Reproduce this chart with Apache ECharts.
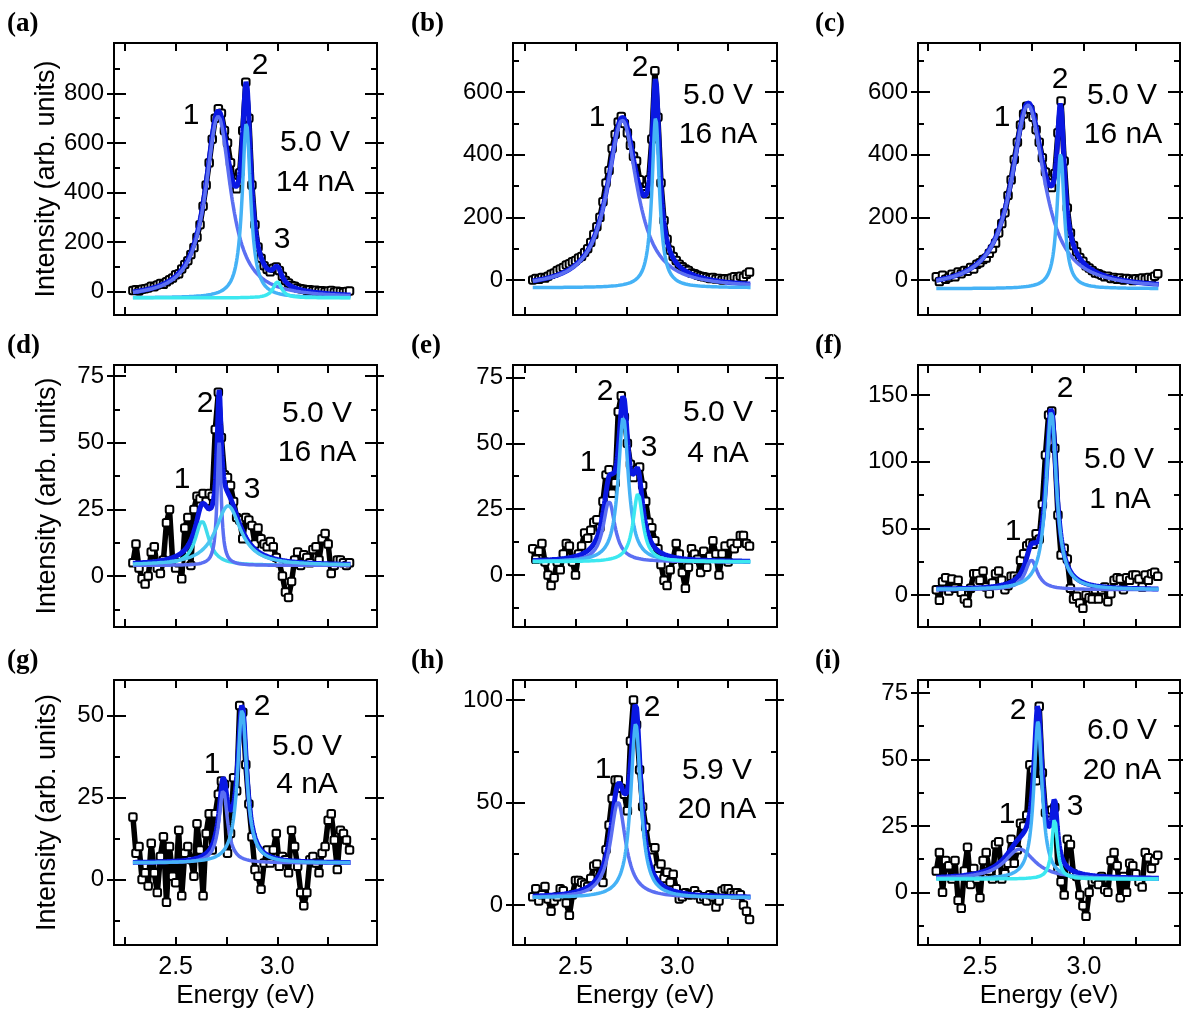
<!DOCTYPE html>
<html>
<head>
<meta charset="utf-8">
<script src="https://cdn.jsdelivr.net/npm/echarts@6.0.0/dist/echarts.min.js"></script>
<style>
html,body{margin:0;padding:0;background:#ffffff;}
#chart{width:1183px;height:1010px;}
</style>
</head>
<body>
<div id="chart"></div>
<script>
// ---------- DATA ----------
const energy = [2.29,2.305,2.32,2.335,2.35,2.365,2.38,2.395,2.41,2.425,2.44,2.455,2.47,2.485,2.5,2.515,2.53,2.545,2.56,2.575,2.59,2.605,2.62,2.635,2.65,2.665,2.68,2.695,2.71,2.725,2.74,2.755,2.77,2.785,2.8,2.815,2.83,2.845,2.86,2.875,2.89,2.905,2.92,2.935,2.95,2.965,2.98,2.995,3.01,3.025,3.04,3.055,3.07,3.085,3.1,3.115,3.13,3.145,3.16,3.175,3.19,3.205,3.22,3.235,3.25,3.265,3.28,3.295,3.31,3.325,3.34,3.355];

const dataA = [5,8,3,10,12,15,22,20,27,33,30,40,48,55,68,72,92,110,125,150,178,220,270,345,430,520,615,700,738,720,650,600,520,440,415,480,650,845,700,430,270,180,135,105,90,80,95,100,85,62,45,35,25,22,15,12,10,5,8,3,6,2,4,0,3,5,-2,2,0,-3,1,3];
const dataB = [0,5,2,8,6,12,18,22,30,35,40,48,52,58,62,70,75,88,100,120,145,170,200,250,310,350,420,465,505,522,500,470,430,395,380,320,285,275,320,450,668,520,310,190,130,95,75,62,50,42,35,30,22,20,15,12,10,8,5,8,3,5,0,4,2,6,10,4,12,8,18,25];
const dataC = [10,-5,15,2,8,18,10,25,20,30,28,40,35,50,55,65,70,85,100,118,150,180,215,270,320,385,440,495,530,555,545,520,480,440,390,345,310,295,340,470,572,380,230,150,110,90,72,60,45,38,30,22,20,15,10,12,5,8,2,6,0,5,3,-2,4,0,6,2,8,5,12,20];
const dataD = [5,12,3,-1,-3,0,9,11,3,1,6,20,25,6,3,5,-1,18,22,4,25,30,29,31,28,31,30,55,69,52,38,37,34,28,22,21,14,22,21,19,12,18,14,12,11,13,11,7,5,0,-6,-8,-2,6,9,4,8,7,5,10,11,6,14,16,12,1,4,6,6,5,4,5];
const dataE = [10,6,9,12,5,0,-4,-1,5,2,8,12,11,5,0,8,11,16,14,17,20,21,18,28,38,40,31,35,62,68,60,50,42,37,40,41,34,28,20,18,13,10,4,-2,-4,2,6,12,8,1,-5,3,10,8,6,1,9,3,7,13,8,0,8,11,5,12,10,12,15,15,12,11];
const dataF = [4,-4,10,13,3,12,5,11,2,-3,-6,5,16,16,11,18,6,1,9,16,18,11,4,7,14,14,12,26,31,37,39,38,46,42,68,105,135,138,110,60,30,35,27,5,-3,-1,-6,-10,0,-2,-3,4,-3,4,6,-5,1,11,13,12,4,13,11,15,15,12,6,15,11,16,17,14];
const dataG = [19,8,10,0,2,-2,11,2,-4,7,13,-7,10,1,-1,15,-5,8,10,6,1,17,9,-5,14,20,9,20,26,30,29,8,14,31,27,53,51,35,23,13,3,1,-3,5,9,5,9,14,4,7,6,2,15,10,4,-4,-8,-4,6,7,5,2,8,10,18,20,12,3,15,14,12,9];
const dataH = [4,8,2,5,9,3,-3,2,4,8,7,1,-5,5,12,12,11,10,9,13,19,20,14,11,27,39,52,61,61,57,54,46,80,100,88,66,48,38,28,27,28,18,20,13,16,11,15,8,3,4,6,5,5,7,5,3,4,2,5,4,-1,2,7,8,8,6,5,6,5,0,-3,-7];
const dataI = [8,15,0,12,10,5,12,-3,-6,8,17,3,9,5,-2,12,15,8,5,18,19,5,7,11,20,11,16,26,25,29,48,46,42,70,45,30,30,31,32,9,4,-1,20,18,7,6,-1,-5,-9,0,4,5,3,6,1,0,12,15,10,-2,6,0,11,10,7,4,2,15,13,9,12,14];

// Lorentzian fit parameters: [centre (eV), half width (eV), amplitude, component colour]
const baseA = -25; const peaksA = [[2.709,0.075,733,'med'],[2.848,0.025,705,'sky'],[3.0,0.025,65,'cyan']];
const baseB = -25; const peaksB = [[2.73,0.09,536,'med'],[2.894,0.022,545,'sky']];
const baseC = -28; const peaksC = [[2.731,0.096,587,'med'],[2.888,0.021,433,'sky']];
const baseD = 4;   const peaksD = [[2.630,0.041,16.6,'cyanL'],[2.714,0.012,46,'med'],[2.758,0.075,22.4,'skyC']];
const baseE = 5;   const peaksE = [[2.665,0.035,23,'med'],[2.735,0.03,55,'sky'],[2.807,0.029,26,'cyan']];
const baseF = 4;   const peaksF = [[2.747,0.035,22.4,'med'],[2.843,0.03,134,'sky']];
const baseG = 5;   const peaksG = [[2.734,0.025,22.4,'med'],[2.827,0.027,47,'sky']];
const baseH = 3.5; const peaksH = [[2.709,0.045,46.8,'med'],[2.796,0.03,85,'sky']];
const baseI = 5;   const peaksI = [[2.691,0.088,11.3,'med'],[2.779,0.024,59.3,'sky'],[2.859,0.016,22.9,'cyan']];

// tick values / labels
const xTicks = [2.25,2.5,2.75,3.0,3.25];
const xLabels = [2.5,3.0];
const yTicksA = [0,100,200,300,400,500,600,700,800,900];
const yLabelsA = [0,200,400,600,800];
const yTicksBC = [0,100,200,300,400,500,600,700];
const yLabelsBC = [0,200,400,600];
const yTicks75 = [-12.5,0,12.5,25,37.5,50,62.5,75];
const yLabels75 = [0,25,50,75];
const yTicksF = [0,25,50,75,100,125,150];
const yLabelsF = [0,50,100,150];
const yTicksG = [-12.5,0,12.5,25,37.5,50];
const yLabelsG = [0,25,50];
const yTicksH = [0,25,50,75,100];
const yLabelsH = [0,50,100];

// annotation texts
const annA = [['1',191,116],['2',260,66],['3',282,240],['5.0 V',315,143],['14 nA',315,183]];
const annB = [['1',597,118],['2',640,68],['5.0 V',718,96],['16 nA',718,135]];
const annC = [['1',1002,118],['2',1060,80],['5.0 V',1122,96],['16 nA',1123,135]];
const annD = [['2',205,404],['1',182,480],['3',252,490],['5.0 V',317,414],['16 nA',317,453]];
const annE = [['2',605,392],['1',588,463],['3',649,448],['5.0 V',718,413],['4 nA',718,454]];
const annF = [['2',1065,389],['1',1013,532],['5.0 V',1119,460],['1 nA',1120,500]];
const annG = [['2',262,707],['1',212,765],['5.0 V',307,747],['4 nA',307,785]];
const annH = [['2',652,708],['1',603,770],['5.9 V',717,771],['20 nA',717,810]];
const annI = [['2',1018,711],['1',1007,815],['3',1075,807],['6.0 V',1122,731],['20 nA',1122,771]];

// ---------- LAYOUT ----------
const colLeft = [114, 513, 918];
const colWidth = [263, 264, 262];
const rowTop = [43, 365, 680];
const rowHeight = [272, 262, 265];
const xRange = [[2.197, 3.49], [2.193, 3.49], [2.202, 3.462]];
const tagLeft = [7, 411, 815];

const colors = {med:'#5b6ff2', sky:'#45b2f6', cyan:'#3ce8f0', cyanL:'#3fdbec', skyC:'#4cc6f2', total:'#0a18e2'};
const FONT = "'Liberation Sans', Arial, Helvetica, sans-serif";

const panels = [
  {tag:'(a)', data:dataA, base:baseA, peaks:peaksA, yMin:-94,  yMax:1003,  yTicks:yTicksA,  yLabels:yLabelsA,  ann:annA},
  {tag:'(b)', data:dataB, base:baseB, peaks:peaksB, yMin:-112, yMax:757,   yTicks:yTicksBC, yLabels:yLabelsBC, ann:annB},
  {tag:'(c)', data:dataC, base:baseC, peaks:peaksC, yMin:-112, yMax:757,   yTicks:yTicksBC, yLabels:yLabelsBC, ann:annC},
  {tag:'(d)', data:dataD, base:baseD, peaks:peaksD, yMin:-19.1,yMax:79.2,  yTicks:yTicks75,  yLabels:yLabels75,  ann:annD},
  {tag:'(e)', data:dataE, base:baseE, peaks:peaksE, yMin:-19.7,yMax:79.7,  yTicks:yTicks75,  yLabels:yLabels75,  ann:annE},
  {tag:'(f)', data:dataF, base:baseF, peaks:peaksF, yMin:-24,  yMax:172.5, yTicks:yTicksF,  yLabels:yLabelsF,  ann:annF},
  {tag:'(g)', data:dataG, base:baseG, peaks:peaksG, yMin:-20,  yMax:60.8,  yTicks:yTicksG,  yLabels:yLabelsG,  ann:annG},
  {tag:'(h)', data:dataH, base:baseH, peaks:peaksH, yMin:-19.5,yMax:109.8, yTicks:yTicksH,  yLabels:yLabelsH,  ann:annH},
  {tag:'(i)', data:dataI, base:baseI, peaks:peaksI, yMin:-19.8,yMax:79.9,  yTicks:yTicks75,  yLabels:yLabels75,  ann:annI}
];

function lorentz(x, p) { const u = (x - p[0]) / p[1]; return p[2] / (1 + u * u); }
const fitX = [];
for (let i = 0; i <= 535; i++) fitX.push(+(2.29 + i * 0.002).toFixed(4));

const grids = [], xAxes = [], yAxes = [], series = [], graphics = [];
const lineBlack = {color:'#000', width:2};

function xAxisDef(i, xr, pos, opts) {
  return Object.assign({
    type:'value', gridIndex:i, min:xr[0], max:xr[1], position:pos,
    axisLine:{show:true, onZero:false, lineStyle:lineBlack},
    axisLabel:{show:false}, splitLine:{show:false}
  }, opts);
}
function yAxisDef(i, p, pos, opts) {
  return Object.assign({
    type:'value', gridIndex:i, min:p.yMin, max:p.yMax, position:pos,
    axisLine:{show:true, onZero:false, lineStyle:lineBlack},
    axisLabel:{show:false}, splitLine:{show:false}
  }, opts);
}

panels.forEach((p, i) => {
  const row = Math.floor(i / 3), col = i % 3;
  grids.push({left: colLeft[col], top: rowTop[row], width: colWidth[col], height: rowHeight[row], containLabel:false});
  const xr = xRange[col];
  const inRangeY = v => v >= p.yMin && v <= p.yMax;
  const majorY = p.yLabels.filter(inRangeY);
  const minorY = p.yTicks.filter(v => inRangeY(v) && p.yLabels.indexOf(v) < 0);

  const xBase = xAxes.length;
  xAxes.push(xAxisDef(i, xr, 'bottom', {
    axisTick:{show:true, inside:true, length:8, lineStyle:lineBlack, customValues:xTicks},
    axisLabel:{show: row === 2, customValues:xLabels, formatter: v => v.toFixed(1), fontSize:25, color:'#000', fontFamily:FONT, margin:10},
    name: row === 2 ? 'Energy (eV)' : '', nameLocation:'middle', nameGap:38,
    nameTextStyle:{fontSize:26, color:'#000', fontFamily:FONT}
  }));
  xAxes.push(xAxisDef(i, xr, 'top', {
    axisTick:{show:true, inside:true, length:8, lineStyle:lineBlack, customValues:xTicks}
  }));

  const yBase = yAxes.length;
  yAxes.push(yAxisDef(i, p, 'left', {
    axisTick:{show:true, inside:true, length:12, lineStyle:lineBlack, customValues:majorY},
    axisLabel:{show:true, customValues:p.yLabels, fontSize:24, color:'#000', fontFamily:FONT, margin:10},
    name: col === 0 ? 'Intensity (arb. units)' : '', nameLocation:'middle', nameGap:53,
    nameTextStyle:{fontSize:27, color:'#000', fontFamily:FONT}
  }));
  yAxes.push(yAxisDef(i, p, 'left', {
    axisTick:{show:true, inside:false, length:7, lineStyle:lineBlack, customValues:majorY}
  }));
  yAxes.push(yAxisDef(i, p, 'left', {
    axisTick:{show:true, inside:true, length:6, lineStyle:lineBlack, customValues:minorY}
  }));
  yAxes.push(yAxisDef(i, p, 'right', {
    axisTick:{show:true, inside:true, length:12, lineStyle:lineBlack, customValues:majorY}
  }));
  yAxes.push(yAxisDef(i, p, 'right', {
    axisTick:{show:true, inside:false, length:7, lineStyle:lineBlack, customValues:majorY}
  }));
  yAxes.push(yAxisDef(i, p, 'right', {
    axisTick:{show:true, inside:true, length:6, lineStyle:lineBlack, customValues:minorY}
  }));

  // measured data
  series.push({
    type:'line', xAxisIndex:xBase, yAxisIndex:yBase,
    data: energy.map((e, j) => [e, p.data[j]]),
    symbol:'roundRect', symbolSize:7.5, showAllSymbol:true,
    lineStyle:{color:'#000', width:5.5, join:'round'},
    itemStyle:{color:'#fff', borderColor:'#000', borderWidth:2},
    z:2, animation:false, silent:true
  });
  // total fit
  series.push({
    type:'line', xAxisIndex:xBase, yAxisIndex:yBase, showSymbol:false,
    data: fitX.map(x => [x, p.base + p.peaks.reduce((s, pk) => s + lorentz(x, pk), 0)]),
    lineStyle:{color:colors.total, width:5}, z:3, animation:false, silent:true
  });
  // components
  p.peaks.forEach(pk => {
    series.push({
      type:'line', xAxisIndex:xBase, yAxisIndex:yBase, showSymbol:false,
      data: fitX.map(x => [x, p.base + lorentz(x, pk)]),
      lineStyle:{color:colors[pk[3]], width:3.5}, z:4, animation:false, silent:true
    });
  });

  graphics.push({type:'text', x: tagLeft[col], y: rowTop[row] - 19,
    style:{text:p.tag, font:"bold 27px 'Liberation Serif', 'DejaVu Serif', serif", fill:'#000', textAlign:'left', textVerticalAlign:'middle'}});
  p.ann.forEach(a => {
    graphics.push({type:'text', x:a[1], y:a[2],
      style:{text:a[0], font:"30px " + FONT, fill:'#000', textAlign:'center', textVerticalAlign:'middle'}});
  });
});

const chart = echarts.init(document.getElementById('chart'), null, {renderer:'canvas'});
chart.setOption({
  animation:false,
  backgroundColor:'#ffffff',
  grid: grids, xAxis: xAxes, yAxis: yAxes, series: series, graphic: graphics
});
</script>
</body>
</html>
